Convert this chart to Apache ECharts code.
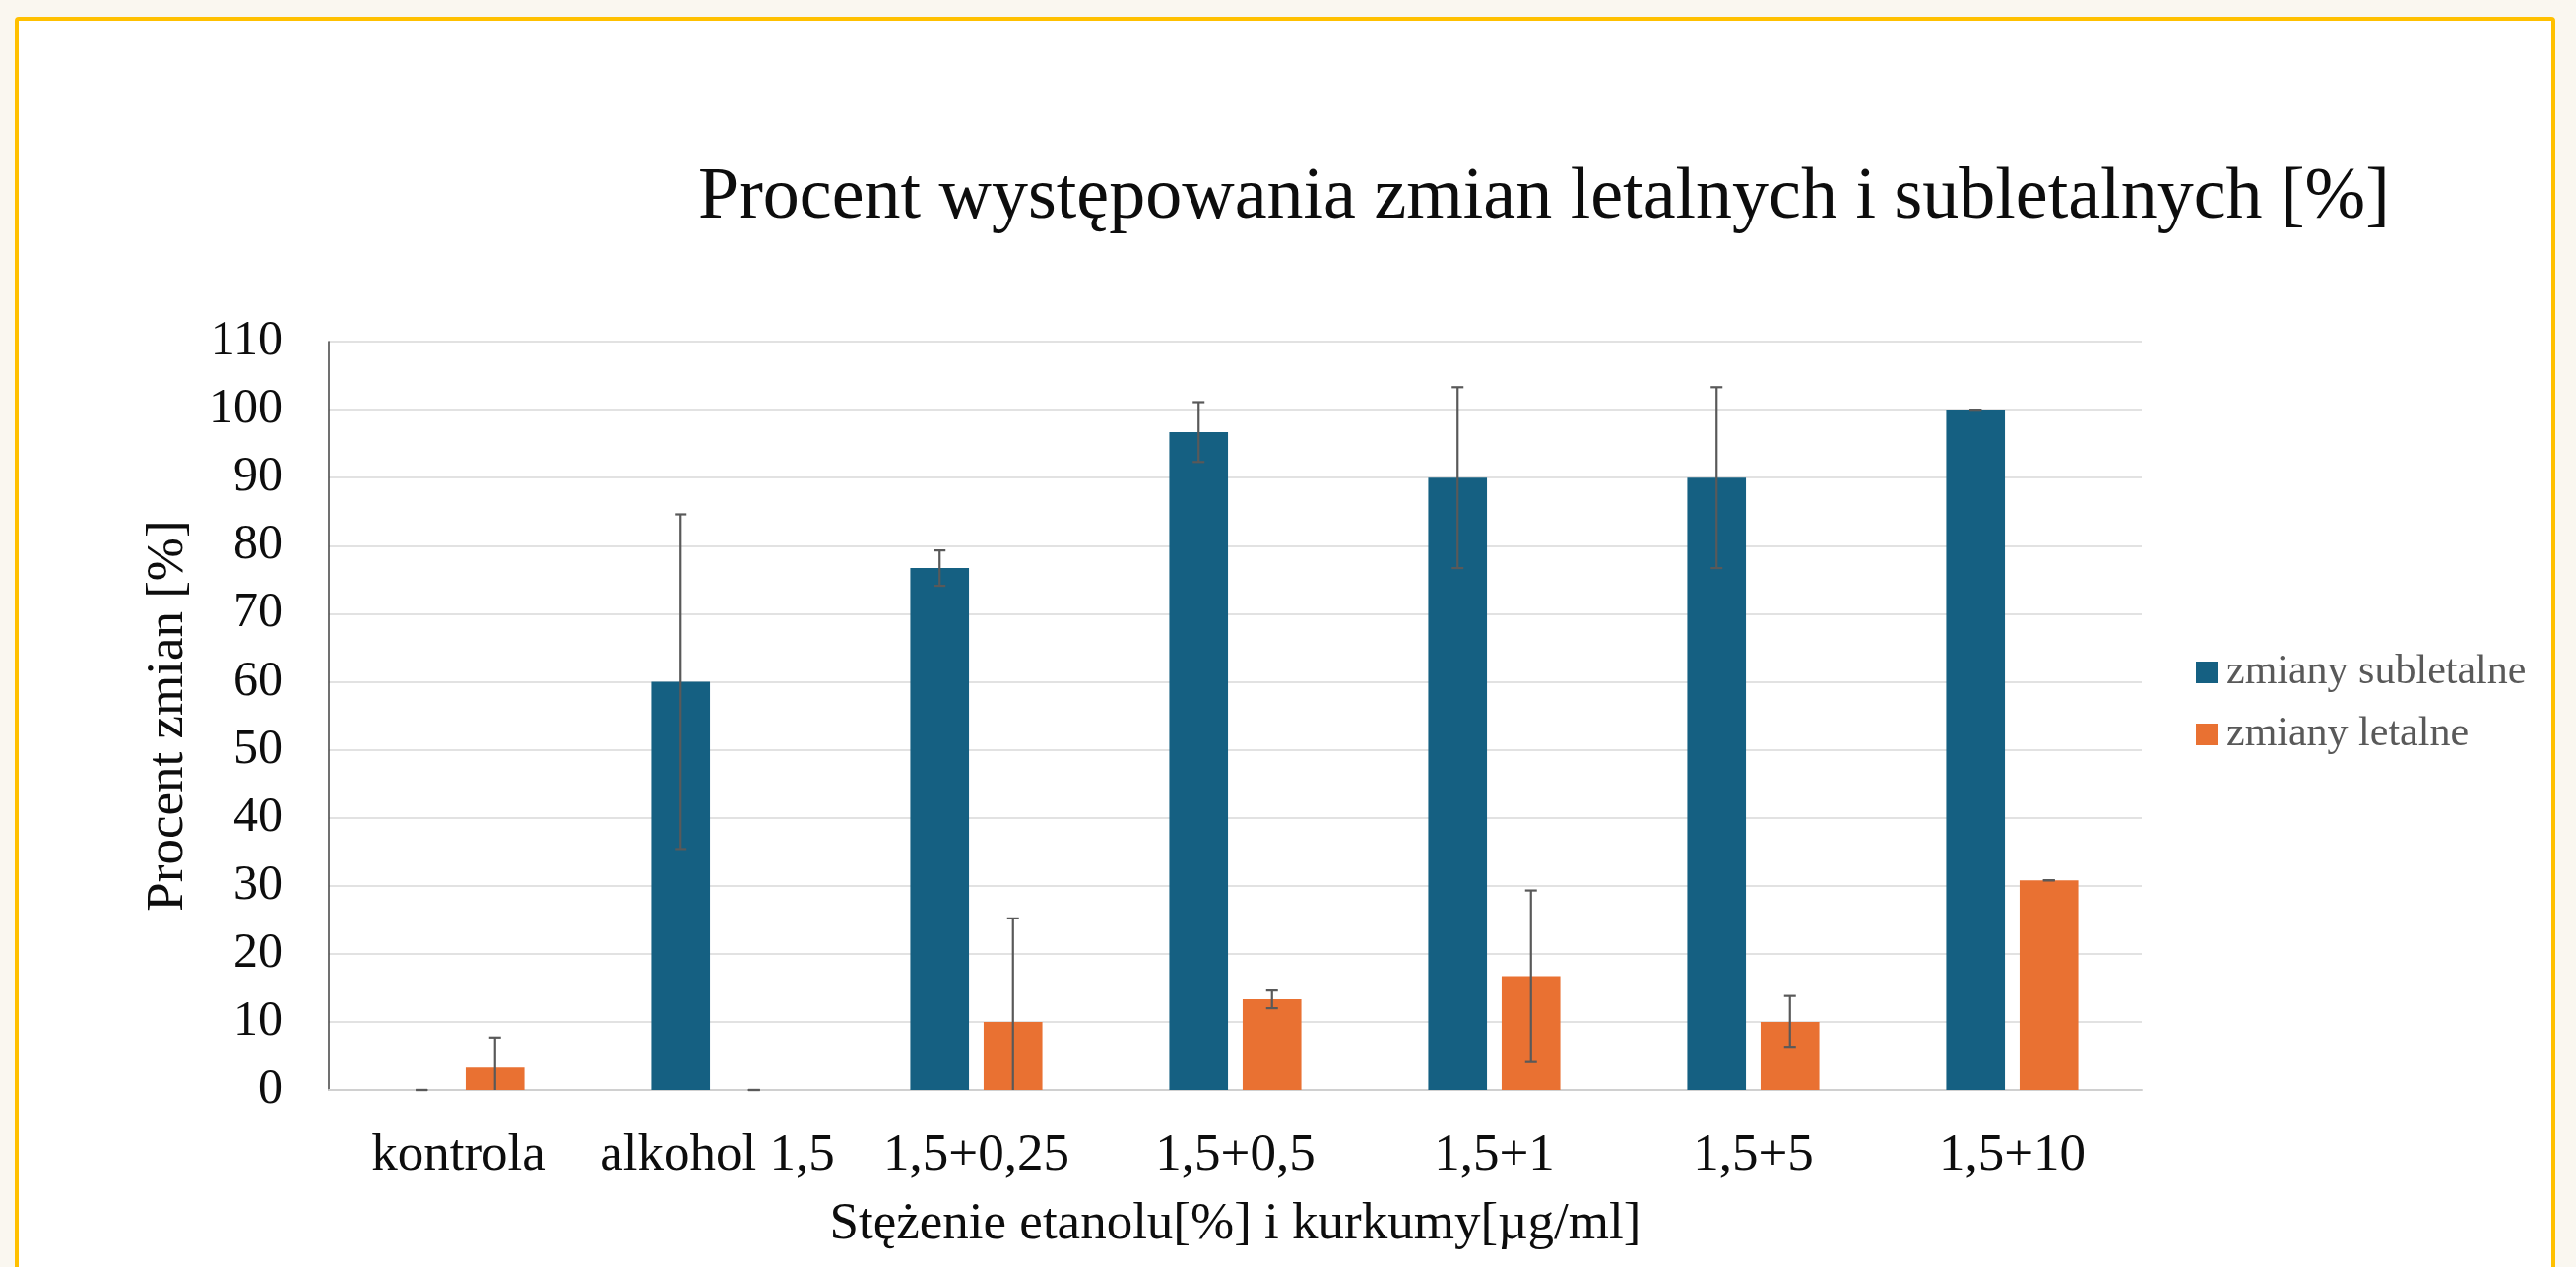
<!DOCTYPE html>
<html>
<head>
<meta charset="utf-8">
<script src="https://cdn.jsdelivr.net/npm/echarts@6/dist/echarts.min.js"></script>
<style>
html,body{margin:0;padding:0;background:#FAF7F0;}
#box{position:absolute;left:15px;top:17px;width:2572px;height:1400px;border:4px solid #FFC000;border-radius:4px;background:#fff;}
#chart{position:absolute;left:0;top:0;width:2616px;height:1287px;}
</style>
</head>
<body>
<div id="box"></div>
<div id="chart"></div>
<script>
var categories = ['kontrola', 'alkohol 1,5', '1,5+0,25', '1,5+0,5', '1,5+1', '1,5+5', '1,5+10'];
var subletalne = [0, 60, 76.7, 96.7, 90, 90, 100];
var subletalneErr = [0, 24.6, 2.6, 4.4, 13.3, 13.3, 0];
var letalne = [3.3, 0, 10, 13.3, 16.7, 10, 30.8];
var letalneErr = [4.4, 0, 15.2, 1.3, 12.6, 3.8, 0];
var yTicks = {min: 0, max: 110, interval: 10};

var FONT = '"Liberation Serif", "Times New Roman", serif';
var CAT_GAP = 0.49, BAR_GAP = 0.25;

function errData(vals, errs) {
  return vals.map(function (v, i) { return [i, v, errs[i]]; });
}
function errRender(sign) {
  return function (params, api) {
    var i = api.value(0), v = api.value(1), e = api.value(2);
    var bw = api.size([1, 0])[0];
    var barW = bw * (1 - CAT_GAP) / (2 + BAR_GAP);
    var off = sign * barW * (1 + BAR_GAP) / 2;
    var lo = Math.max(0, v - e);
    var top = api.coord([i, v + e]);
    var bot = api.coord([i, lo]);
    var x = top[0] + off;
    var cap = 6;
    var st = {stroke: '#595959', lineWidth: 2.2};
    var children = [
      {type: 'line', shape: {x1: x, y1: top[1], x2: x, y2: bot[1]}, style: st},
      {type: 'line', shape: {x1: x - cap, y1: top[1], x2: x + cap, y2: top[1]}, style: st}
    ];
    if (v - e >= -1e-9) {
      children.push({type: 'line', shape: {x1: x - cap, y1: bot[1], x2: x + cap, y2: bot[1]}, style: st});
    }
    return {type: 'group', children: children};
  };
}

var chart = echarts.init(document.getElementById('chart'));
chart.setOption({
  backgroundColor: 'transparent',
  animation: false,
  title: {
    text: 'Procent występowania zmian letalnych i subletalnych [%]',
    left: 704, top: 160,
    textStyle: {fontFamily: FONT, fontSize: 74, fontWeight: 'normal', color: '#0D0D0D', lineHeight: 74}
  },
  legend: {
    orient: 'vertical', left: 2225, top: 657,
    itemWidth: 22, itemHeight: 22, itemGap: 21,
    icon: 'rect',
    data: ['zmiany subletalne', 'zmiany letalne'],
    textStyle: {fontFamily: FONT, fontSize: 42, color: '#595959', lineHeight: 42, padding: [0, 0, 0, 4]}
  },
  grid: {left: 334, right: 441, top: 347, bottom: 180, containLabel: false},
  xAxis: {
    type: 'category', data: categories,
    axisLine: {show: true, lineStyle: {color: '#D0D0D0', width: 2}},
    axisTick: {show: false},
    axisLabel: {fontFamily: FONT, fontSize: 53, color: '#0D0D0D', margin: 41, lineHeight: 53, interval: 0},
    name: 'Stężenie etanolu[%] i kurkumy[µg/ml]',
    nameLocation: 'middle', nameGap: 111,
    nameTextStyle: {fontFamily: FONT, fontSize: 53, color: '#0D0D0D', lineHeight: 53}
  },
  yAxis: {
    type: 'value', min: yTicks.min, max: yTicks.max, interval: yTicks.interval,
    axisLine: {show: true, lineStyle: {color: '#404040', width: 1.5}},
    axisTick: {show: false},
    splitLine: {lineStyle: {color: '#D9D9D9', width: 1.5}},
    axisLabel: {fontFamily: FONT, fontSize: 50, color: '#0D0D0D', margin: 47},
    name: 'Procent zmian [%]',
    nameLocation: 'middle', nameGap: 136, nameRotate: 90,
    nameTextStyle: {fontFamily: FONT, fontSize: 53, color: '#0D0D0D', lineHeight: 53}
  },
  series: [
    {name: 'zmiany subletalne', type: 'bar', data: subletalne, barCategoryGap: (CAT_GAP * 100) + '%', barGap: (BAR_GAP * 100) + '%',
     itemStyle: {color: '#156082'}},
    {name: 'zmiany letalne', type: 'bar', data: letalne, barCategoryGap: (CAT_GAP * 100) + '%', barGap: (BAR_GAP * 100) + '%',
     itemStyle: {color: '#E97132'}},
    {name: 'err-sub', type: 'custom', data: errData(subletalne, subletalneErr), renderItem: errRender(-1), z: 5,
     encode: {x: 0, y: 1}},
    {name: 'err-let', type: 'custom', data: errData(letalne, letalneErr), renderItem: errRender(1), z: 5,
     encode: {x: 0, y: 1}}
  ]
});
</script>
</body>
</html>
